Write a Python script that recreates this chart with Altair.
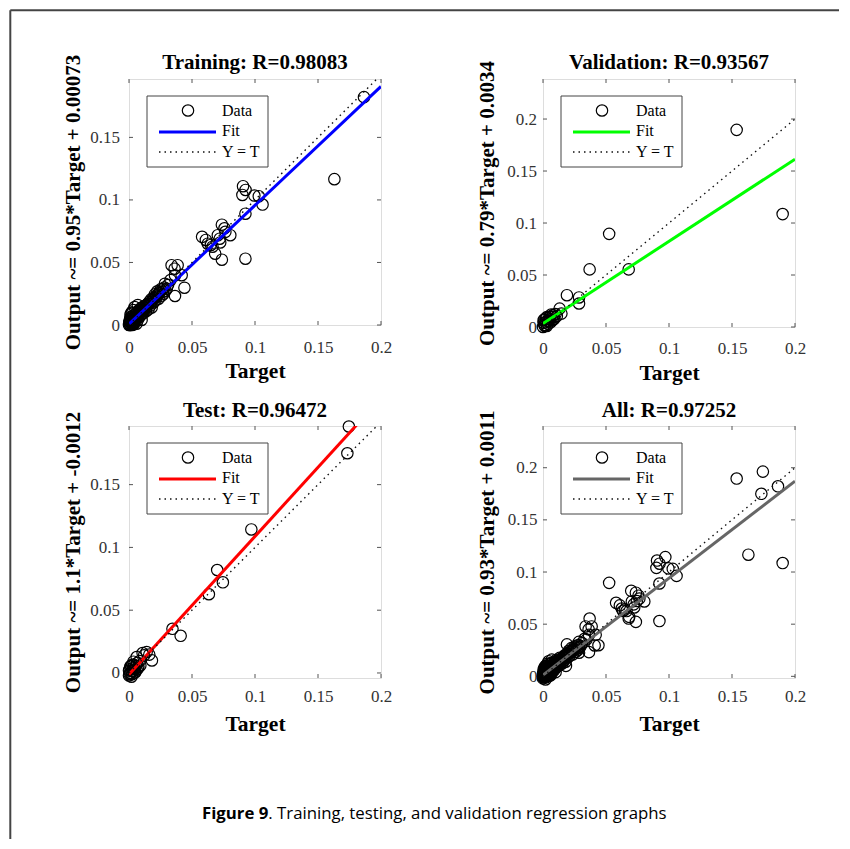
import altair as alt
import pandas as pd

# ---------------- data ----------------
train_target = [0.1865, 0.1630, 0.0905, 0.0925, 0.0900, 0.0995, 0.1030, 0.1060, 0.0924, 0.0924,
                0.0580, 0.0610, 0.0625, 0.0650, 0.0663, 0.0705, 0.0720, 0.0737, 0.0758, 0.0765,
                0.0804, 0.0684, 0.0737, 0.0724, 0.0338, 0.0386, 0.0362, 0.0365, 0.0418, 0.0365,
                0.0440, 0.0285, 0.0330, 0.0300,
                0.0000, 0.0005, 0.0010, 0.0012, 0.0008, 0.0020, 0.0025, 0.0030, 0.0015, 0.0035,
                0.0040, 0.0045, 0.0050, 0.0055, 0.0060, 0.0065, 0.0070, 0.0075, 0.0080, 0.0085,
                0.0090, 0.0095, 0.0100, 0.0105, 0.0110, 0.0115, 0.0120, 0.0130, 0.0135, 0.0140,
                0.0150, 0.0155, 0.0160, 0.0170, 0.0175, 0.0180, 0.0190, 0.0195, 0.0205, 0.0210,
                0.0220, 0.0225, 0.0235, 0.0240, 0.0250, 0.0260, 0.0270, 0.0280, 0.0290, 0.0310,
                0.0025, 0.0020, 0.0045, 0.0070, 0.0035, 0.0060, 0.0100, 0.0005, 0.0018, 0.0032,
                0.0003, 0.0018, 0.0028, 0.0042, 0.0052, 0.0062, 0.0068, 0.0078, 0.0088, 0.0098,
                0.0108, 0.0118, 0.0125, 0.0145, 0.0165, 0.0185, 0.0200, 0.0215, 0.0230, 0.0245,
                0.0265, 0.0275, 0.0012, 0.0022, 0.0008, 0.0038]
train_output = [0.1822, 0.1166, 0.1110, 0.1080, 0.1040, 0.1035, 0.1030, 0.0963, 0.0890, 0.0530,
                0.0705, 0.0680, 0.0650, 0.0640, 0.0626, 0.0718, 0.0690, 0.0802, 0.0773, 0.0745,
                0.0718, 0.0570, 0.0522, 0.0660, 0.0478, 0.0478, 0.0450, 0.0398, 0.0398, 0.0232,
                0.0298, 0.0330, 0.0360, 0.0290,
                0.0000, 0.0010, 0.0000, 0.0030, 0.0050, 0.0020, 0.0045, 0.0010, 0.0065, 0.0030,
                0.0060, 0.0020, 0.0085, 0.0045, 0.0065, 0.0105, 0.0040, 0.0080, 0.0120, 0.0065,
                0.0095, 0.0135, 0.0085, 0.0110, 0.0145, 0.0095, 0.0125, 0.0155, 0.0110, 0.0140,
                0.0170, 0.0125, 0.0185, 0.0155, 0.0205, 0.0140, 0.0215, 0.0180, 0.0245, 0.0195,
                0.0225, 0.0270, 0.0210, 0.0255, 0.0285, 0.0235, 0.0265, 0.0300, 0.0275, 0.0320,
                0.0000, 0.0100, 0.0144, 0.0160, 0.0120, 0.0010, 0.0040, 0.0025, 0.0040, 0.0075,
                0.0025, 0.0012, 0.0058, 0.0038, 0.0068, 0.0082, 0.0058, 0.0098, 0.0112, 0.0105,
                0.0128, 0.0112, 0.0142, 0.0158, 0.0172, 0.0195, 0.0215, 0.0235, 0.0245, 0.0268,
                0.0285, 0.0250, 0.0085, 0.0098, 0.0000, 0.0005]

val_target = [0.1537, 0.1902, 0.0525, 0.0370, 0.0680, 0.0190, 0.0286, 0.0286, 0.0132, 0.0146,
              0.0053, 0.0000, 0.0010, 0.0020, 0.0030, 0.0035, 0.0040, 0.0055, 0.0060, 0.0070,
              0.0075, 0.0080, 0.0090, 0.0100, 0.0012, 0.0005, 0.0025, 0.0065, 0.0110,
              0.0015, 0.0045, 0.0085, 0.0005, 0.0030]
val_output = [0.1896, 0.1086, 0.0896, 0.0554, 0.0554, 0.0306, 0.0284, 0.0226, 0.0177, 0.0129,
              0.0097, 0.0000, 0.0020, 0.0045, 0.0010, 0.0060, 0.0030, 0.0075, 0.0045, 0.0100,
              0.0065, 0.0115, 0.0080, 0.0125, 0.0075, 0.0040, 0.0085, 0.0120, 0.0105,
              0.0010, 0.0055, 0.0095, 0.0065, 0.0095]

test_target = [0.1745, 0.1733, 0.0971, 0.0700, 0.0745, 0.0634, 0.0345, 0.0410, 0.0108, 0.0140,
               0.0161, 0.0182, 0.0061, 0.0000, 0.0010, 0.0005, 0.0020, 0.0025, 0.0030, 0.0035,
               0.0040, 0.0045, 0.0050, 0.0055, 0.0060, 0.0065, 0.0075, 0.0085, 0.0090, 0.0015,
               0.0000, 0.0020, 0.0035, 0.0010, 0.0045, 0.0070, 0.0025, 0.0005, 0.0120]
test_output = [0.1963, 0.1750, 0.1143, 0.0820, 0.0722, 0.0627, 0.0352, 0.0296, 0.0159, 0.0167,
               0.0146, 0.0100, 0.0127, -0.0020, 0.0000, 0.0030, 0.0015, -0.0010, 0.0040, 0.0015,
               0.0065, 0.0030, 0.0005, 0.0055, 0.0025, 0.0080, 0.0050, 0.0095, 0.0060, 0.0055,
               0.0020, -0.0030, 0.0090, 0.0050, 0.0005, 0.0035, 0.0065, -0.0010, 0.0140]

# "All" is the union of the three subsets
all_target = train_target + val_target + test_target
all_output = train_output + val_output + test_output

titles = ["Training: R=0.98083", "Validation: R=0.93567", "Test: R=0.96472", "All: R=0.97252"]
ylabels = ["Output ~= 0.95*Target + 0.00073", "Output ~= 0.79*Target + 0.0034",
           "Output ~= 1.1*Target + -0.0012", "Output ~= 0.93*Target + 0.0011"]
slopes = [0.95, 0.79, 1.1, 0.93]
intercepts = [0.00073, 0.0034, -0.0012, 0.0011]
fit_colors = ["#0000FF", "#00FF00", "#FF0000", "#666666"]
x_ticks = [0, 0.05, 0.1, 0.15, 0.2]
y_ticks = [[0, 0.05, 0.1, 0.15], [0, 0.05, 0.1, 0.15, 0.2],
           [0, 0.05, 0.1, 0.15], [0, 0.05, 0.1, 0.15, 0.2]]
y_domains = [[0, 0.1967], [0, 0.2385], [-0.004, 0.1967], [-0.0016, 0.240]]
x_domain = [0, 0.2]
legend_labels = ["Data", "Fit", "Y = T"]
caption_bold = "Figure 9"
caption_rest = ". Training, testing, and validation regression graphs"

SERIF = "Liberation Serif"
SANS = "Open Sans"
W = 252
PT_SIZE = 130


def panel(i, t, o, H, lab_pad_x, lab_pad_y, title_y, extra=()):
    pts = pd.DataFrame({"t": t, "o": o})
    xs = alt.Scale(domain=x_domain, nice=False, zero=False)
    ys = alt.Scale(domain=y_domains[i], nice=False, zero=False)
    xaxis = alt.Axis(values=x_ticks, format="~g", title="Target", tickSize=0, domain=False,
                     grid=False, labelFont=SERIF, labelFontSize=17, labelColor="#333",
                     labelPadding=lab_pad_x, labelBaseline="middle", labelOverlap=False,
                     labelFlush=False, titleFont=SERIF, titleFontSize=21.5, titleFontWeight="bold",
                     titleColor="black", titleY=46.5, titleX=W / 2, titleBaseline="middle")
    yaxis = alt.Axis(values=y_ticks[i], format="~g", title=ylabels[i], tickSize=0, domain=False,
                     grid=False, labelFont=SERIF, labelFontSize=17, labelColor="#333",
                     labelPadding=lab_pad_y, labelOverlap=False, labelFlush=False,
                     titleFont=SERIF, titleFontSize=21, titleFontWeight="bold", titleColor="black",
                     titleX=-56, titleY=H / 2, titleAngle=270, titleBaseline="middle",
                     titleAlign="center")

    def X(f):
        return alt.X(f, type="quantitative", scale=xs, axis=xaxis)

    def Y(f):
        return alt.Y(f, type="quantitative", scale=ys, axis=yaxis)

    xt = pd.DataFrame({"v": x_ticks})
    yt = pd.DataFrame({"v": y_ticks[i]})
    one = pd.DataFrame({"k": [0]})
    line_df = pd.DataFrame({"t": [x_domain[0], x_domain[1]]})

    tick_b = alt.Chart(xt).mark_rule(color="#555").encode(x=X("v"), y=alt.value(H), y2=alt.value(H - 4))
    tick_t = alt.Chart(xt).mark_rule(color="#555").encode(x=X("v"), y=alt.value(0), y2=alt.value(4))
    tick_l = alt.Chart(yt).mark_rule(color="#555").encode(y=Y("v"), x=alt.value(0), x2=alt.value(4))
    tick_r = alt.Chart(yt).mark_rule(color="#555").encode(y=Y("v"), x=alt.value(W - 4), x2=alt.value(W))

    points = alt.Chart(pts).mark_point(shape="circle", filled=False, size=PT_SIZE, color="black",
                                       strokeWidth=1.2, opacity=1, clip=False).encode(x=X("t"), y=Y("o"))
    fit = alt.Chart(line_df).transform_calculate(
        o=f"{slopes[i]}*datum.t + {intercepts[i]}"
    ).mark_line(clip=True, color=fit_colors[i], strokeWidth=3).encode(x=X("t"), y=Y("o"))
    ident = alt.Chart(line_df).mark_line(clip=True, color="#111", strokeWidth=1.4,
                                         strokeDash=[1.5, 4]).encode(x=X("t"), y=Y("t"))

    # panel title
    ttl = alt.Chart(one).mark_text(font=SERIF, fontSize=21, fontWeight="bold", color="black",
                                   align="center", baseline="middle").encode(
        x=alt.value(W / 2), y=alt.value(title_y), text=alt.value(titles[i]))

    # legend box
    lg_box = alt.Chart(one).mark_rect(fill="white", stroke="#444", strokeWidth=1).encode(
        x=alt.value(18), x2=alt.value(139), y=alt.value(17), y2=alt.value(88))
    lg_pt = alt.Chart(one).mark_point(shape="circle", filled=False, size=PT_SIZE, color="black",
                                      strokeWidth=1.2, opacity=1).encode(x=alt.value(59), y=alt.value(31.5))
    lg_fit = alt.Chart(one).mark_rule(color=fit_colors[i], strokeWidth=3).encode(
        x=alt.value(30), x2=alt.value(87), y=alt.value(53))
    lg_id = alt.Chart(one).mark_rule(color="#111", strokeWidth=1.4, strokeDash=[1.5, 4]).encode(
        x=alt.value(30), x2=alt.value(87), y=alt.value(73))
    lg_txt = [alt.Chart(one).mark_text(font=SERIF, fontSize=16, color="black", align="left",
                                       baseline="middle").encode(
        x=alt.value(93), y=alt.value(yy), text=alt.value(lab))
        for lab, yy in zip(legend_labels, [31.5, 52, 72.5])]

    layers = [tick_b, tick_t, tick_l, tick_r, points, fit, ident, ttl,
              lg_box, lg_pt, lg_fit, lg_id] + lg_txt + list(extra)
    return alt.layer(*layers).properties(width=W, height=H)


one_row = pd.DataFrame({"k": [0]})
frame = [
    alt.Chart(one_row).mark_rule(color="#444", strokeWidth=2).encode(
        x=alt.value(-118.7), y=alt.value(-68.7), y2=alt.value(760)),
    alt.Chart(one_row).mark_rule(color="#444", strokeWidth=2).encode(
        x=alt.value(-118.7), x2=alt.value(710), y=alt.value(-68.7)),
]
caption = [
    alt.Chart(one_row).mark_text(font=SANS, fontSize=16.8, fontWeight="bold", color="black",
                                 align="right", baseline="middle").encode(
        x=alt.value(139.3), y=alt.value(388), text=alt.value(caption_bold)),
    alt.Chart(one_row).mark_text(font=SANS, fontSize=16.8, color="black",
                                 align="left", baseline="middle").encode(
        x=alt.value(139.3), y=alt.value(388), text=alt.value(caption_rest)),
]

p_train = panel(0, train_target, train_output, 246, 22, 9.5, -16, extra=frame)
p_val = panel(1, val_target, val_output, 248, 21.5, 6.5, -15.6)
p_test = panel(2, test_target, test_output, 252, 18.5, 9.5, -15, extra=caption)
p_all = panel(3, all_target, all_output, 252, 18.5, 6, -15)

chart = alt.concat(
    p_train, p_val, p_test, p_all, columns=2, bounds="flush",
    spacing=alt.RowColnumber(row=99, column=162), padding=0
).configure_view(stroke="#555", strokeWidth=1).configure(background="white")

chart.save("out.html", embed_options={"renderer": "svg", "actions": False})
